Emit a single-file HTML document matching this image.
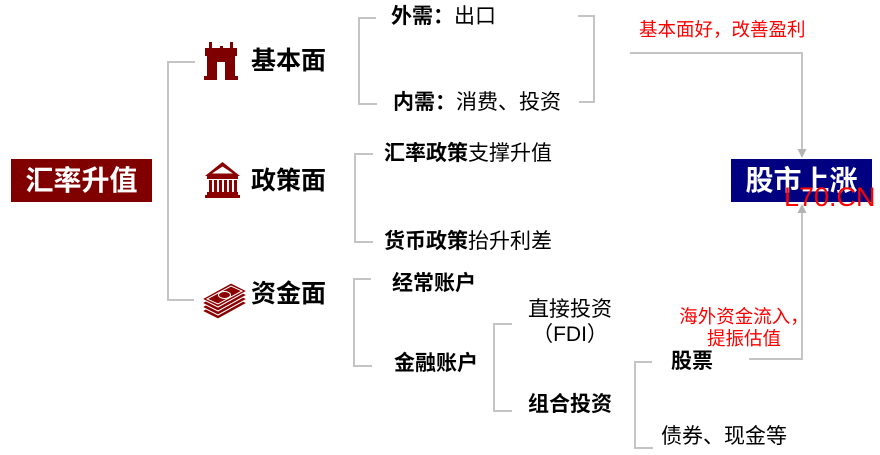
<!DOCTYPE html>
<html><head><meta charset="utf-8">
<style>
html,body{margin:0;padding:0;background:#fff;}
body{width:880px;height:455px;position:relative;overflow:hidden;font-family:"Liberation Sans","Noto Sans CJK SC",sans-serif;color:#000;}
.t{position:absolute;white-space:nowrap;line-height:1;}
b{font-weight:700;}
.f21{font-size:21px;}
.big{font-size:25px;font-weight:700;}
.red{color:#f00;font-size:18.5px;}
.box{position:absolute;color:#fff;font-size:28px;font-weight:700;display:flex;align-items:center;justify-content:center;line-height:1;}
svg{position:absolute;left:0;top:0;}
</style></head><body>
<svg width="880" height="455" viewBox="0 0 880 455">
 <g fill="none" stroke="#c4c4c4" stroke-width="2">
  <path d="M195 62 H168 V300 H194"/>
  <path d="M376 18 H359 V104 H377"/>
  <path d="M578 16 H594 V102 H579"/>
  <path d="M373 154 H355 V242 H373"/>
  <path d="M371 279 H354 V366 H372"/>
  <path d="M512 324 H494 V411 H512"/>
  <path d="M652 362 H635 V448 H653"/>
  <path d="M630 53 H802 V150"/>
  <path d="M749 359 H802 V212"/>
 </g>
 <g fill="#b4b4b4">
  <polygon points="797.5,149 806.5,149 802,158"/>
  <polygon points="797.5,213 806.5,213 802,204"/>
 </g>
 <!-- fortress -->
 <g fill="#7f0000">
  <rect x="209" y="42" width="3" height="7"/>
  <rect x="230" y="42" width="3" height="7"/>
  <rect x="220" y="46" width="3" height="3"/>
  <path d="M205 48 H237 V56 H235 V76 H238 V80 H225 V62 H217 V80 H204 V76 H207 V56 H205 Z"/>
 </g>
 <!-- government -->
 <g fill="#8b0000">
  <polygon points="222.5,162 205,176 240,176"/>
  <polygon points="222.5,166.5 212,173.5 233,173.5" fill="#fff"/>
  <rect x="207" y="176" width="31" height="3"/>
  <rect x="209" y="180" width="3" height="12"/>
  <rect x="214" y="180" width="3" height="12"/>
  <rect x="219" y="180" width="3" height="12"/>
  <rect x="224" y="180" width="3" height="12"/>
  <rect x="229" y="180" width="3" height="12"/>
  <rect x="234" y="180" width="3" height="12"/>
  <rect x="207" y="192" width="31" height="3"/>
  <rect x="205" y="195" width="35" height="3"/>
 </g>
 <!-- money stack -->
 <g fill="#8b0000" stroke="#fff" stroke-width="1">
  <polygon points="202,311 231,295 247,303 218,319"/>
  <polygon points="202,307 231,291 247,299 218,315"/>
  <polygon points="202,303 231,287 247,295 218,311"/>
  <polygon points="202,299 231,283 247,291 218,307"/>
 </g>
 <g fill="none" stroke="#fff" stroke-width="1">
  <polygon points="207,299 231,286 242,291 218,304"/>
  <ellipse cx="224.5" cy="295" rx="6" ry="3.5"/>
 </g>
</svg>

<div class="box" style="left:11px;top:159px;width:141px;height:43px;background:#800000;">汇率升值</div>
<div class="box" style="left:731px;top:159px;width:141px;height:43px;background:#000080;">股市上涨</div>
<div class="t" style="left:784px;top:184px;font-size:27px;color:#f00;font-family:'Liberation Sans',sans-serif;">L70.CN</div>

<div class="t big" style="left:251px;top:49px;">基本面</div>
<div class="t big" style="left:251px;top:169px;">政策面</div>
<div class="t big" style="left:251px;top:282px;">资金面</div>

<div class="t f21" style="left:391px;top:6px;"><b>外需：</b>出口</div>
<div class="t f21" style="left:393px;top:92px;"><b>内需：</b>消费、投资</div>
<div class="t f21" style="left:384px;top:143px;"><b>汇率政策</b>支撑升值</div>
<div class="t f21" style="left:384px;top:231px;"><b>货币政策</b>抬升利差</div>
<div class="t f21" style="left:392px;top:273px;"><b>经常账户</b></div>
<div class="t f21" style="left:394px;top:353px;"><b>金融账户</b></div>
<div class="t f21" style="left:528px;top:299px;">直接投资</div>
<div class="t f21" style="left:520px;top:324px;width:100px;text-align:center;">（FDI）</div>
<div class="t f21" style="left:528px;top:394px;"><b>组合投资</b></div>
<div class="t f21" style="left:671px;top:351px;"><b>股票</b></div>
<div class="t f21" style="left:661px;top:426px;">债券、现金等</div>

<div class="t red" style="left:639px;top:21px;">基本面好，改善盈利</div>
<div class="t red" style="left:669px;top:306px;width:150px;text-align:center;line-height:22px;">海外资金流入，<br>提振估值</div>
</body></html>
